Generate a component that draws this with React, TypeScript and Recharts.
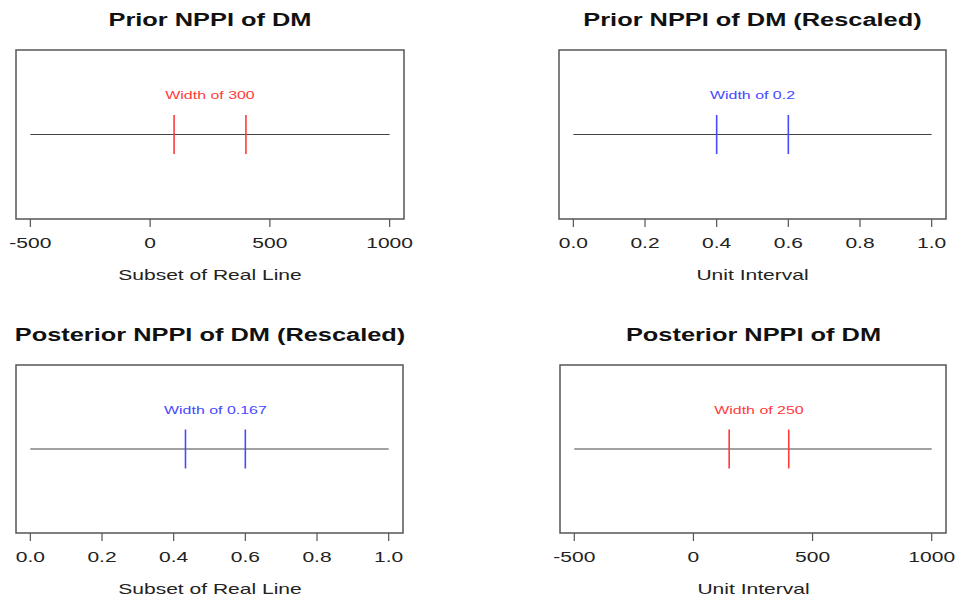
import React from 'react';
import { ComposedChart, XAxis, YAxis, ReferenceLine, ReferenceArea, Scatter } from 'recharts';

// values
const RAW_RANGE = [-500, 1000];
const UNIT_RANGE = [0, 1];
const RAW_TICKS = [-500, 0, 500, 1000];
const UNIT_TICKS = [0, 0.2, 0.4, 0.6, 0.8, 1.0];

const PRIOR_NPPI = [100, 400];
const PRIOR_NPPI_RESCALED = [0.4, 0.6];
const POSTERIOR_NPPI_RESCALED = [0.433, 0.6];
const POSTERIOR_NPPI = [150, 400];

const TITLES = ['Prior NPPI of DM', 'Prior NPPI of DM (Rescaled)', 'Posterior NPPI of DM (Rescaled)', 'Posterior NPPI of DM'];
const X_LABELS = ['Subset of Real Line', 'Unit Interval', 'Subset of Real Line', 'Unit Interval'];
const WIDTH_LABELS = ['Width of 300', 'Width of 0.2', 'Width of 0.167', 'Width of 250'];

const Y_RANGE = [-1, 1];
const SEGMENT_HALF = 0.25;
const LABEL_Y = 0.5;

const FONT = '"Liberation Sans", Arial, Helvetica, sans-serif';
const STRETCH = 1.45;
const RED = '#ff3a3a';
const BLUE = '#4848ff';

// R's default 4% axis extension
const pad = (r: number[]) => [r[0] - (r[1] - r[0]) * 0.04, r[1] + (r[1] - r[0]) * 0.04];

type PanelProps = {
  left: number;
  top: number;
  width: number;
  height: number;
  plot: number[]; // absolute x0, x1, y0, y1 of the box
  title: string;
  xLabel: string;
  range: number[];
  ticks: number[];
  unit: boolean;
  interval: number[];
  color: string;
  label: string;
};

const Panel: React.FC<PanelProps> = ({ left, top, width, height, plot, title, xLabel, range, ticks, unit, interval, color, label }) => {
  const [px0, px1, py0, py1] = plot;
  const axisH = 30;
  const margin = {
    top: py0 - top,
    left: px0 - left,
    right: left + width - px1,
    bottom: top + height - py1 - axisH,
  };
  const xDomain = pad(range);
  const yDomain = pad(Y_RANGE);
  const fmt = (v: number) => (unit ? v.toFixed(1) : String(v));
  const mid = (interval[0] + interval[1]) / 2;

  const Tick = (p: any) => (
    <g transform={`translate(${p.x},${p.y}) scale(${STRETCH},1)`}>
      <text x={0} y={0} dy={19} textAnchor="middle" fontSize={14.5} fontFamily={FONT} fill="#222">
        {fmt(p.payload.value)}
      </text>
    </g>
  );

  const centerX = (px0 + px1) / 2 - left;
  const textStyle: React.CSSProperties = {
    position: 'absolute',
    width: width,
    textAlign: 'center',
    fontFamily: FONT,
    transform: `scaleX(${STRETCH})`,
    transformOrigin: '50% 50%',
    whiteSpace: 'nowrap',
    left: centerX - width / 2,
    height: 20,
    lineHeight: '20px',
  };

  return (
    <div style={{ position: 'absolute', left, top, width, height }}>
      <div
        style={{
          ...textStyle,
          top: py0 - top - 30 - 10,
          fontSize: 17.5,
          fontWeight: 'bold',
          color: '#111',
        }}
      >
        {title}
      </div>
      <ComposedChart width={width} height={height} margin={margin}>
        <XAxis
          type="number"
          dataKey="x"
          domain={xDomain}
          allowDataOverflow
          ticks={ticks}
          interval={0}
          height={axisH}
          axisLine={false}
          tickSize={8}
          tickLine={{ stroke: '#555', strokeWidth: 1.2 }}
          tick={Tick}
        />
        <YAxis type="number" dataKey="y" domain={yDomain} allowDataOverflow hide />
        <ReferenceArea
          x1={xDomain[0]}
          x2={xDomain[1]}
          y1={yDomain[0]}
          y2={yDomain[1]}
          fill="none"
          fillOpacity={0}
          stroke="#555"
          strokeWidth={1.5}
          ifOverflow="visible"
        />
        <ReferenceLine
          segment={[{ x: range[0], y: 0 }, { x: range[1], y: 0 }]}
          stroke="#444"
          strokeWidth={1}
        />
        {interval.map((v, i) => (
          <ReferenceLine
            key={i}
            segment={[{ x: v, y: -SEGMENT_HALF }, { x: v, y: SEGMENT_HALF }]}
            stroke={color}
            strokeWidth={1.6}
          />
        ))}
        <Scatter
          data={[{ x: mid, y: LABEL_Y }]}
          isAnimationActive={false}
          shape={(p: any) => (
            <g transform={`translate(${p.cx},${p.cy}) scale(${STRETCH},1)`}>
              <text x={0} y={0} dy={4} textAnchor="middle" fontSize={11} fontFamily={FONT} fill={color}>
                {label}
              </text>
            </g>
          )}
        />
      </ComposedChart>
      <div
        style={{
          ...textStyle,
          top: py1 - top + 56 - 10,
          fontSize: 14.5,
          color: '#222',
        }}
      >
        {xLabel}
      </div>
    </div>
  );
};

const App: React.FC = () => {
  return (
    <div style={{ position: 'absolute', left: 0, top: 0, width: 955, height: 599, background: '#fff', overflow: 'hidden' }}>
      <Panel
        left={0} top={0} width={420} height={300}
        plot={[16, 404, 50, 219]}
        title={TITLES[0]} xLabel={X_LABELS[0]}
        range={RAW_RANGE} ticks={RAW_TICKS} unit={false}
        interval={PRIOR_NPPI} color={RED} label={WIDTH_LABELS[0]}
      />
      <Panel
        left={540} top={0} width={415} height={300}
        plot={[559, 946, 50, 219]}
        title={TITLES[1]} xLabel={X_LABELS[1]}
        range={UNIT_RANGE} ticks={UNIT_TICKS} unit
        interval={PRIOR_NPPI_RESCALED} color={BLUE} label={WIDTH_LABELS[1]}
      />
      <Panel
        left={0} top={305} width={420} height={294}
        plot={[16, 403, 365, 533]}
        title={TITLES[2]} xLabel={X_LABELS[2]}
        range={UNIT_RANGE} ticks={UNIT_TICKS} unit
        interval={POSTERIOR_NPPI_RESCALED} color={BLUE} label={WIDTH_LABELS[2]}
      />
      <Panel
        left={540} top={305} width={415} height={294}
        plot={[560, 946, 365, 533]}
        title={TITLES[3]} xLabel={X_LABELS[3]}
        range={RAW_RANGE} ticks={RAW_TICKS} unit={false}
        interval={POSTERIOR_NPPI} color={RED} label={WIDTH_LABELS[3]}
      />
    </div>
  );
};

export default App;
